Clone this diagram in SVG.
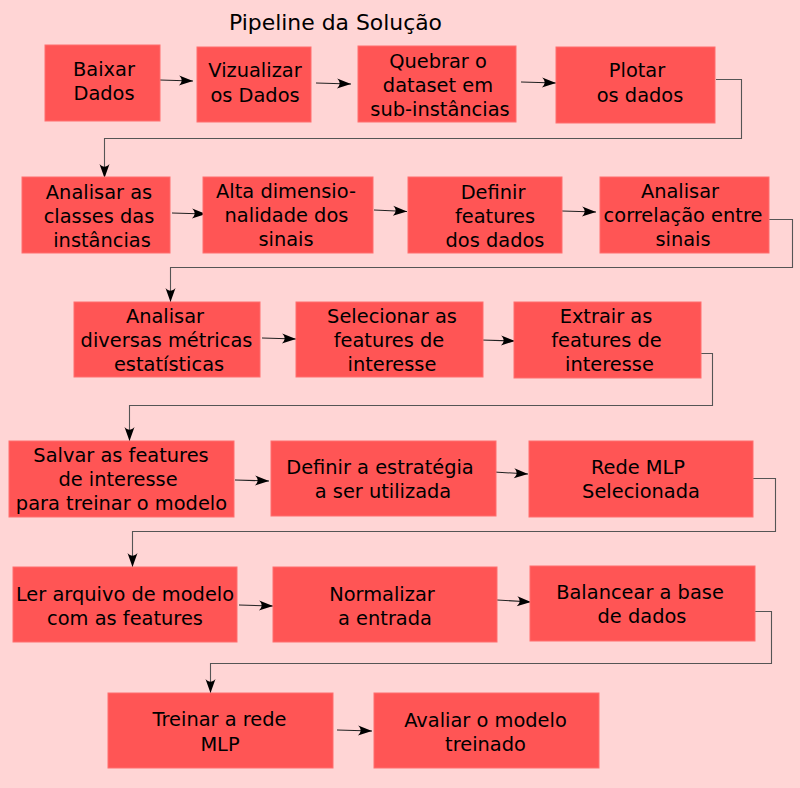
<svg xmlns="http://www.w3.org/2000/svg" width="800" height="788" viewBox="0 0 800 788">
<style>
.bg{fill:#FFD5D5}
.box{fill:#FF5555;stroke:#FF6F6F;stroke-width:1}
text{font-family:"DejaVu Sans","Noto Sans",sans-serif;font-size:19.4px;fill:#000;text-anchor:middle}
.title{font-size:21.9px;text-anchor:start}
.c{fill:none;stroke:#222;stroke-width:1.1}
.e{fill:none;stroke:#555;stroke-width:1.1}
</style>
<defs>
<marker id="ah" markerUnits="userSpaceOnUse" orient="auto" refX="0" refY="0" markerWidth="20" markerHeight="20" overflow="visible">
<path d="M0,0 L-14,-5 C-10.5,-1.7 -10.5,1.7 -14,5 Z" fill="#000"/>
</marker>
</defs>
<rect class="bg" x="0" y="0" width="800" height="788"/>
<text class="title" x="229" y="30">Pipeline da Solução</text>

<g id="connectors">
<path class="c" d="M160,80 L193,81" marker-end="url(#ah)"/>
<path class="c" d="M316,83 L351,84" marker-end="url(#ah)"/>
<path class="c" d="M521,82 L556,83" marker-end="url(#ah)"/>
<path class="e" d="M716,79.5 H741.5 V138.5 H104.5 V178" marker-end="url(#ah)"/>
<path class="c" d="M172,213 L206,214" marker-end="url(#ah)"/>
<path class="c" d="M374,210 L407,211.5" marker-end="url(#ah)"/>
<path class="c" d="M562,211 L596,212" marker-end="url(#ah)"/>
<path class="e" d="M768,219.5 H792.5 V267.5 H170.5 V302" marker-end="url(#ah)"/>
<path class="c" d="M262,338 L296,339" marker-end="url(#ah)"/>
<path class="c" d="M481,340 L515,341" marker-end="url(#ah)"/>
<path class="e" d="M690,353.5 H712.5 V405.5 H129.5 V441" marker-end="url(#ah)"/>
<path class="c" d="M235,480 L269,481" marker-end="url(#ah)"/>
<path class="c" d="M494,472 L528,474" marker-end="url(#ah)"/>
<path class="e" d="M750,478.5 H775.5 V531.5 H132.5 V567" marker-end="url(#ah)"/>
<path class="c" d="M239,605 L273,606" marker-end="url(#ah)"/>
<path class="c" d="M497,600 L531,602" marker-end="url(#ah)"/>
<path class="e" d="M749,611.5 H771.5 V663.5 H210.5 V693" marker-end="url(#ah)"/>
<path class="c" d="M337,730 L372,731" marker-end="url(#ah)"/>
</g>

<g id="n1"><rect class="box" x="45" y="45" width="115" height="76"/><text><tspan x="104" y="76">Baixar</tspan><tspan x="104" y="100">Dados</tspan></text></g>
<g id="n2"><rect class="box" x="197" y="47" width="114" height="75"/><text><tspan x="255" y="77">Vizualizar</tspan><tspan x="255" y="102">os Dados</tspan></text></g>
<g id="n3"><rect class="box" x="358" y="46" width="158" height="76"/><text><tspan x="438" y="68">Quebrar o</tspan><tspan x="438" y="92">dataset em</tspan><tspan x="440" y="116">sub-instâncias</tspan></text></g>
<g id="n4"><rect class="box" x="556" y="47" width="159" height="76"/><text><tspan x="637" y="77">Plotar</tspan><tspan x="640" y="102">os dados</tspan></text></g>

<g id="n5"><rect class="box" x="22" y="177" width="148" height="76"/><text><tspan x="99" y="199">Analisar as</tspan><tspan x="99" y="223">classes das</tspan><tspan x="102" y="247">instâncias</tspan></text></g>
<g id="n6"><rect class="box" x="203" y="177" width="170" height="76"/><text><tspan x="286" y="198">Alta dimensio-</tspan><tspan x="286.5" y="222">nalidade dos</tspan><tspan x="286" y="246">sinais</tspan></text></g>
<g id="n7"><rect class="box" x="408" y="177" width="154" height="76"/><text><tspan x="493" y="199">Definir</tspan><tspan x="495" y="223">features</tspan><tspan x="495" y="247">dos dados</tspan></text></g>
<g id="n8"><rect class="box" x="600" y="177" width="169" height="76"/><text><tspan x="680" y="198">Analisar</tspan><tspan x="683" y="222">correlação entre</tspan><tspan x="683" y="246">sinais</tspan></text></g>

<g id="n9"><rect class="box" x="74" y="302" width="186" height="75"/><text><tspan x="165" y="323">Analisar</tspan><tspan x="166.5" y="347">diversas métricas</tspan><tspan x="169" y="371">estatísticas</tspan></text></g>
<g id="n10"><rect class="box" x="296" y="302" width="187" height="75"/><text><tspan x="392" y="323">Selecionar as</tspan><tspan x="389" y="347">features de</tspan><tspan x="392" y="371">interesse</tspan></text></g>
<g id="n11"><rect class="box" x="514" y="302" width="187" height="76"/><text><tspan x="606" y="323">Extrair as</tspan><tspan x="606.5" y="347">features de</tspan><tspan x="609.5" y="371">interesse</tspan></text></g>

<g id="n12"><rect class="box" x="9" y="441" width="225" height="76"/><text><tspan x="121" y="462">Salvar as features</tspan><tspan x="118" y="486">de interesse</tspan><tspan x="121.5" y="510">para treinar o modelo</tspan></text></g>
<g id="n13"><rect class="box" x="271" y="441" width="225" height="75"/><text><tspan x="380" y="474">Definir a estratégia</tspan><tspan x="383" y="498">a ser utilizada</tspan></text></g>
<g id="n14"><rect class="box" x="529" y="441" width="224" height="76"/><text><tspan x="638" y="474">Rede MLP</tspan><tspan x="641" y="498">Selecionada</tspan></text></g>

<g id="n15"><rect class="box" x="13" y="567" width="224" height="75"/><text><tspan x="125" y="601">Ler arquivo de modelo</tspan><tspan x="125" y="625">com as features</tspan></text></g>
<g id="n16"><rect class="box" x="273" y="567" width="224" height="75"/><text><tspan x="382" y="601">Normalizar</tspan><tspan x="385" y="625">a entrada</tspan></text></g>
<g id="n17"><rect class="box" x="530" y="566" width="225" height="75"/><text><tspan x="640" y="599">Balancear a base</tspan><tspan x="642" y="623">de dados</tspan></text></g>

<g id="n18"><rect class="box" x="108" y="693" width="225" height="75"/><text><tspan x="219.5" y="726">Treinar a rede</tspan><tspan x="220" y="751">MLP</tspan></text></g>
<g id="n19"><rect class="box" x="374" y="693" width="225" height="75"/><text><tspan x="485.5" y="727">Avaliar o modelo</tspan><tspan x="485.5" y="751">treinado</tspan></text></g>
</svg>
